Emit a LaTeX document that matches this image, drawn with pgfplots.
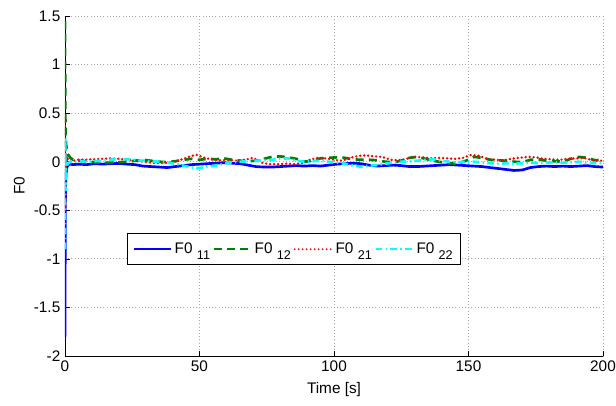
\documentclass[border=0pt]{standalone}
\usepackage{pgfplots}
\pgfplotsset{compat=1.18}
\usepackage{fontspec}
\setmainfont{Liberation Sans}
\definecolor{mgreen}{rgb}{0,0.5,0}
\definecolor{mcyan}{rgb}{0,1,1}
\definecolor{mred}{rgb}{1,0,0}
\newcommand{\sub}[1]{\raisebox{-4.5pt}{\fontsize{9.5}{10}\selectfont #1}}
\begin{document}
\begin{tikzpicture}
\begin{axis}[
  scale only axis,
  width=403.5pt, height=255pt,
  xmin=0, xmax=200, ymin=-2, ymax=1.5,
  axis x line*=bottom, axis y line*=left,
  axis line style={black, -},
  xtick={0,50,...,200},
  ytick={-2,-1.5,...,1.5},
  yticklabels={-2,-1.5,-1,-0.5,0,0.5,1,1.5},
  tick align=inside,
  major tick length=4pt,
  tick style={black, thin},
  grid=major,
  major grid style={black!35, dotted, line width=0.6pt},
  /pgf/number format/assume math mode=true,
  tick label style={font=\fontsize{11.5}{13}\selectfont},
  xlabel={Time [s]}, ylabel={F0},
  label style={font=\fontsize{11.5}{13}\selectfont},
  xlabel style={yshift=-1pt},
  ylabel style={yshift=0pt},
  legend columns=4,
  legend style={at={(0.115,0.362)}, anchor=north west, draw=black, line width=0.8pt,
    font=\fontsize{11.5}{13}\selectfont, inner xsep=4pt, inner ysep=5pt,
    /tikz/every even column/.append style={column sep=0pt}},
  legend image code/.code={\draw[#1, line width=1.5pt] (0pt,0pt) -- (28pt,0pt);},
]
\addplot[blue, line width=2pt] coordinates {
(0,-1.8)(0.1,-0.6)(0.2,-0.25)(0.4,-0.12)(0.7,-0.06)(1,-0.04)(1.5,-0.03)(2,-0.025)(3,-0.03)(5,-0.025)(8,-0.03)(11,-0.02)(14,-0.025)(17,-0.02)(20,-0.018)(23,-0.025)(26,-0.03)(29,-0.045)(32,-0.05)(35,-0.055)(38,-0.06)(41,-0.05)(44,-0.04)(47,-0.03)(50,-0.025)(53,-0.02)(56,-0.015)(59,-0.01)(62,-0.015)(65,-0.02)(68,-0.035)(71,-0.05)(74,-0.055)(77,-0.055)(80,-0.05)(83,-0.045)(86,-0.04)(89,-0.045)(92,-0.04)(95,-0.045)(98,-0.035)(101,-0.025)(104,-0.02)(107,-0.015)(110,-0.02)(113,-0.035)(116,-0.045)(119,-0.04)(122,-0.035)(125,-0.04)(128,-0.05)(131,-0.05)(134,-0.045)(137,-0.04)(140,-0.035)(143,-0.03)(146,-0.035)(149,-0.04)(152,-0.045)(155,-0.05)(158,-0.06)(161,-0.07)(164,-0.08)(167,-0.09)(170,-0.085)(173,-0.06)(176,-0.05)(179,-0.045)(182,-0.05)(185,-0.045)(188,-0.05)(191,-0.045)(194,-0.04)(197,-0.05)(200,-0.055)
};
\addlegendentry{F0 \sub{11}}
\addplot[mgreen, line width=2pt, dash pattern=on 6pt off 4pt] coordinates {
(0,1.45)(0.1,0.6)(0.2,0.3)(0.4,0.18)(0.7,0.12)(1,0.08)(1.5,0.06)(2,0.04)(3,0.02)(5,0.01)(8,0.005)(11,-0.005)(14,-0.01)(17,-0.01)(20,-0.005)(23,0.0)(26,0.01)(29,0.02)(32,0.01)(35,0.0)(38,-0.005)(41,0.005)(44,0.02)(47,0.03)(50,0.02)(53,0.03)(56,0.025)(59,0.035)(62,0.02)(65,0.01)(68,0.005)(71,0.01)(74,0.03)(77,0.05)(80,0.055)(83,0.045)(86,0.03)(89,0.0)(92,0.01)(95,0.035)(98,0.04)(101,0.045)(104,0.04)(107,0.025)(110,0.02)(113,0.02)(116,0.015)(119,0.0)(122,-0.005)(125,0.01)(128,0.04)(131,0.05)(134,0.03)(137,0.01)(140,-0.005)(143,-0.015)(146,-0.02)(149,0.01)(152,0.05)(155,0.04)(158,0.02)(161,0.015)(164,0.01)(167,0.0)(170,-0.005)(173,0.02)(176,0.025)(179,0.01)(182,0.005)(185,0.0)(188,0.03)(191,0.05)(194,0.04)(197,0.015)(200,0.02)
};
\addlegendentry{F0 \sub{12}}
\addplot[mred, line width=2pt, line cap=round, dash pattern=on 0pt off 3pt] coordinates {
(0,0.45)(0.1,-0.5)(0.2,0.2)(0.4,-0.1)(0.7,0.08)(1,0.03)(1.5,0.01)(2,0.0)(3,0.01)(5,0.02)(8,0.02)(11,0.025)(14,0.03)(17,0.035)(20,0.03)(23,0.02)(26,0.01)(29,0.0)(32,-0.01)(35,-0.015)(38,-0.01)(41,0.0)(44,0.03)(47,0.06)(49,0.07)(52,0.04)(55,0.02)(58,0.015)(61,0.02)(64,0.01)(67,0.02)(70,0.04)(73,-0.01)(76,-0.025)(79,-0.025)(82,-0.02)(85,-0.025)(88,-0.015)(91,0.02)(94,0.04)(97,0.035)(100,0.02)(103,0.01)(106,0.04)(109,0.06)(112,0.065)(115,0.055)(118,0.05)(121,0.02)(124,0.015)(127,0.03)(130,0.05)(133,0.045)(136,0.035)(139,0.04)(142,0.035)(145,0.03)(148,0.04)(151,0.07)(154,0.06)(157,0.03)(160,0.02)(163,0.015)(166,0.03)(169,0.04)(172,0.05)(175,0.045)(178,0.03)(181,0.025)(184,0.02)(187,0.03)(190,0.035)(193,0.04)(196,0.015)(200,0.01)
};
\addlegendentry{F0 \sub{21}}
\addplot[mcyan, line width=2pt, dash pattern=on 5pt off 2.5pt on 1pt off 2.5pt] coordinates {
(0,-0.9)(0.1,0.25)(0.2,-0.3)(0.4,-0.08)(0.7,-0.04)(1,-0.02)(1.5,-0.01)(2,0.0)(3,0.0)(5,0.005)(8,0.0)(11,0.005)(14,0.01)(17,0.02)(20,0.03)(23,0.025)(26,0.02)(29,0.01)(32,0.005)(35,0.0)(38,-0.01)(41,-0.02)(44,-0.04)(47,-0.06)(50,-0.065)(53,-0.05)(56,-0.04)(59,-0.02)(62,-0.005)(65,0.0)(68,0.005)(71,0.01)(74,0.015)(77,0.02)(80,0.03)(83,0.035)(86,0.01)(89,0.0)(92,0.005)(95,0.01)(98,0.0)(101,-0.01)(104,-0.02)(107,-0.04)(110,-0.05)(113,-0.04)(116,-0.035)(119,-0.02)(122,-0.01)(125,0.0)(128,0.005)(131,0.01)(134,0.02)(137,0.025)(140,0.01)(143,0.0)(146,-0.005)(149,0.0)(152,0.0)(155,-0.01)(158,-0.015)(161,-0.02)(164,-0.015)(167,-0.02)(170,-0.015)(173,-0.01)(176,-0.015)(179,-0.01)(182,-0.005)(185,-0.01)(188,-0.005)(191,0.0)(194,-0.01)(197,-0.015)(200,-0.01)
};
\addlegendentry{F0 \sub{22}}
\end{axis}
\pgfresetboundingbox
\path (-48.75pt,-36.75pt) rectangle (413.25pt,267pt);
\end{tikzpicture}
\end{document}
